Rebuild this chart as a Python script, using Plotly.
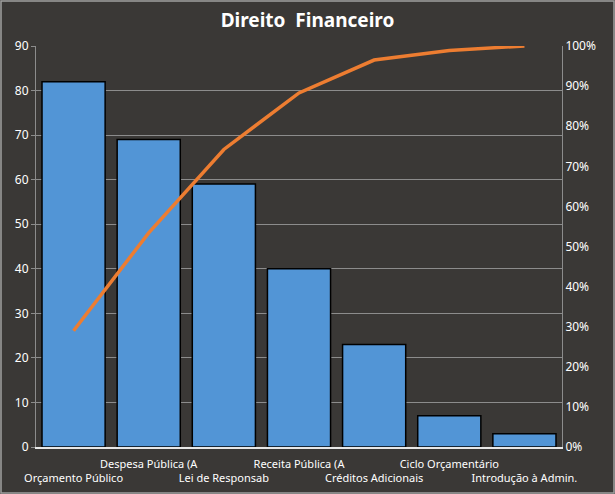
import plotly.graph_objects as go

categories = ["Orçamento Público", "Despesa Pública (A", "Lei de Responsab", "Receita Pública (A",
              "Créditos Adicionais", "Ciclo Orçamentário", "Introdução à Admin."]
counts = [82, 69, 59, 40, 23, 7, 3]
cumulative_pct = [29.0, 53.4, 74.2, 88.3, 96.5, 98.9, 100.0]

tick_text = [("<br>" + c) if i % 2 == 0 else c for i, c in enumerate(categories)]

W, H = 615, 494
ml, mr, mt, mb = 36, 53, 46, 47
pw, ph = W - ml - mr, H - mt - mb

FAM = "Noto Sans, Open Sans, sans-serif"

fig = go.Figure()
fig.add_trace(go.Bar(
    x=categories, y=counts,
    marker=dict(color="#5295d6", line=dict(color="#000000", width=1.5)),
    showlegend=False, hoverinfo="x+y",
))
fig.add_trace(go.Scatter(
    x=categories, y=cumulative_pct, yaxis="y2", mode="lines",
    line=dict(color="#ed7d31", width=3.5), showlegend=False,
))

fig.update_layout(
    width=W, height=H,
    margin=dict(l=ml, r=mr, t=mt, b=mb, autoexpand=False),
    paper_bgcolor="#3a3836", plot_bgcolor="#3a3836",
    font=dict(family=FAM, color="#ffffff", size=11),
    bargap=0.16,
    title=dict(text="<b>Direito  Financeiro</b>", x=0.5, xanchor="center", y=1 - 20 / H, yanchor="middle",
               font=dict(family=FAM, size=19, color="#ffffff")),
    xaxis=dict(tickmode="array", tickvals=categories, ticktext=tick_text, showgrid=False,
               showline=True, linecolor="#e8e8e8", linewidth=1.5, ticks="", tickangle=0,
               ticklabelstandoff=6, automargin=False, tickfont=dict(size=11)),
    yaxis=dict(range=[0, 90], dtick=10, showgrid=True, gridcolor="#8c8c8c", gridwidth=1,
               showline=True, linecolor="#8c8c8c", ticks="outside", ticklen=4, tickcolor="#8c8c8c",
               zeroline=False, automargin=False, tickfont=dict(size=12)),
    yaxis2=dict(range=[0, 100], dtick=10, ticksuffix="%", overlaying="y", side="right",
                showgrid=False, showline=True, linecolor="#8c8c8c", zeroline=False,
                ticks="", automargin=False, tickfont=dict(size=12)),
)
fig.add_shape(type="rect", xref="paper", yref="paper",
              x0=-(ml - 1) / pw, x1=1 + (mr - 1) / pw, y0=-(mb - 1) / ph, y1=1 + (mt - 1) / ph,
              line=dict(color="#a0a0a0", width=1.5))
fig.write_html("out.html", config={"displayModeBar": False},
               post_script="document.body.style.margin='0';")
